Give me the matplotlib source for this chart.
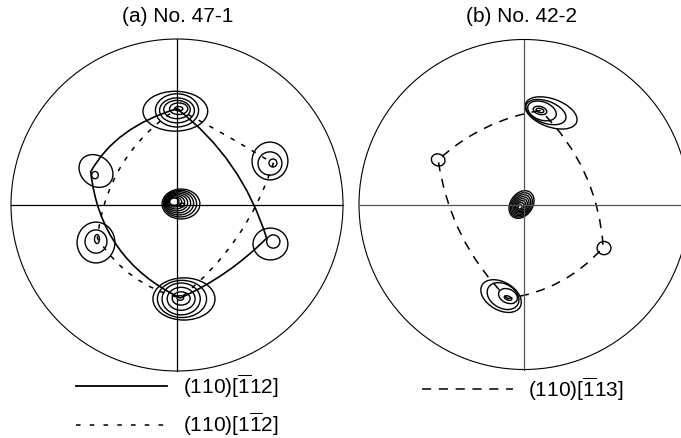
"""
Pole figures (a) No. 47-1 and (b) No. 42-2 with texture skeleton lines.
Saves out.png (681x438).
"""
import matplotlib
matplotlib.use("Agg")  # headless
import matplotlib.pyplot as plt
from matplotlib.patches import Circle, Ellipse, PathPatch
from matplotlib.path import Path

plt.rcParams["font.family"] = ["Liberation Sans", "DejaVu Sans"]
plt.rcParams["mathtext.fontset"] = "custom"
plt.rcParams["mathtext.rm"] = "Liberation Sans"

TITLES = ["(a) No. 47-1", "(b) No. 42-2"]

# contour rings, in units of the pole-figure radius: (x, y, half-width, half-height, angle)
RINGS_47_1 = [
    # top peak
    (0.01, 0.58, 0.025, 0.013, 0), (0.01, 0.58, 0.055, 0.035, 0),
    (0.00, 0.575, 0.08, 0.055, 0), (0.00, 0.57, 0.105, 0.075, 0),
    (0.00, 0.57, 0.13, 0.10, 0), (-0.01, 0.565, 0.195, 0.12, 0),
    # bottom peak
    (0.02, -0.56, 0.02, 0.014, 0), (0.025, -0.563, 0.054, 0.04, 0),
    (0.025, -0.565, 0.084, 0.069, 0), (0.025, -0.566, 0.115, 0.096, 0),
    (0.03, -0.566, 0.148, 0.112, 0), (0.042, -0.566, 0.187, 0.127, 0),
    # centre peak
    (0.024, 0.006, 0.114, 0.09, 0), (0.018, 0.008, 0.10, 0.08, 0),
    (0.012, 0.01, 0.088, 0.07, 0), (0.006, 0.012, 0.076, 0.06, 0),
    (0.0, 0.014, 0.064, 0.05, 0), (-0.006, 0.016, 0.052, 0.04, 0),
    (-0.012, 0.018, 0.04, 0.03, 0), (-0.016, 0.02, 0.028, 0.022, 0),
    (0.03, 0.0, 0.016, 0.012, 0),
    # upper left
    (-0.494, 0.18, 0.02, 0.022, 0), (-0.488, 0.205, 0.11, 0.09, -40),
    # upper right
    (0.578, 0.253, 0.024, 0.024, 0), (0.56, 0.25, 0.072, 0.07, 0),
    (0.56, 0.265, 0.108, 0.114, 0),
    # lower left
    (-0.482, -0.205, 0.015, 0.027, 0), (-0.488, -0.22, 0.066, 0.07, 0),
    (-0.488, -0.226, 0.114, 0.123, 0),
    # lower right
    (0.58, -0.22, 0.04, 0.04, 0), (0.563, -0.235, 0.105, 0.096, 0),
]

RINGS_42_2 = [
    # top peak
    (0.097, 0.57, 0.024, 0.012, -15), (0.097, 0.57, 0.042, 0.024, -15),
    (0.109, 0.567, 0.09, 0.055, -20), (0.133, 0.56, 0.127, 0.067, -20),
    (0.164, 0.555, 0.165, 0.085, -20),
    # bottom peak
    (-0.097, -0.567, 0.024, 0.012, -20), (-0.097, -0.555, 0.06, 0.042, -25),
    (-0.127, -0.555, 0.103, 0.073, -30), (-0.139, -0.555, 0.133, 0.085, -30),
    # centre peak
    (-0.015, 0.0, 0.091, 0.067, 55), (-0.016, -0.002, 0.08, 0.059, 55),
    (-0.017, -0.004, 0.069, 0.051, 55), (-0.018, -0.006, 0.058, 0.043, 55),
    (-0.019, -0.008, 0.047, 0.035, 55), (-0.02, -0.01, 0.036, 0.027, 55),
    (-0.022, -0.012, 0.025, 0.019, 55), (-0.024, -0.015, 0.014, 0.01, 55),
    # small side peaks
    (-0.52, 0.27, 0.042, 0.036, -20), (0.485, -0.264, 0.042, 0.04, 0),
]

# skeleton lines: corner points and quadratic-curve control points between them
SOLID_47_1_PTS = [(0.0, 0.58), (-0.52, 0.20), (0.02, -0.56), (0.54, -0.20)]
SOLID_47_1_CTRL = [(-0.37, 0.47), (-0.46, -0.33), (0.31, -0.43), (0.39, 0.28)]
DASH_47_1_PTS = [(0.0, 0.58), (0.58, 0.25), (0.02, -0.56), (-0.48, -0.20)]
DASH_47_1_CTRL = [(0.29, 0.43), (0.42, -0.24), (-0.30, -0.48), (-0.42, 0.30)]
DASH_42_2_PTS = [(0.10, 0.57), (-0.52, 0.27), (-0.10, -0.57), (0.48, -0.26)]
DASH_42_2_CTRL = [(-0.26, 0.51), (-0.45, -0.22), (0.25, -0.52), (0.45, 0.22)]

LEGEND_A = [r"(110)[$\overline{\mathrm{1}}$12]", r"(110)[1$\overline{\mathrm{1}}$2]"]
LEGEND_B = r"(110)[$\overline{\mathrm{1}}$13]"

W, H = 681, 438


def skeleton_path(pts, ctrl):
    verts = [pts[0]]
    codes = [Path.MOVETO]
    for i in range(len(pts)):
        verts += [ctrl[i], pts[(i + 1) % len(pts)]]
        codes += [Path.CURVE3, Path.CURVE3]
    return Path(verts, codes)


def pole_axes(fig, cx, cy, r, cross_color):
    ax = fig.add_axes([(cx - r) / W, (H - cy - r) / H, 2 * r / W, 2 * r / H])
    ax.set_xlim(-1, 1)
    ax.set_ylim(-1, 1)
    ax.axis("off")
    ax.add_patch(Circle((0, 0), 1, fill=False, lw=0.8, color="black", clip_on=False))
    ax.plot([-1, 1], [0, 0], color=cross_color, lw=0.9, clip_on=False)
    ax.plot([0, 0], [-1, 1], color=cross_color, lw=0.9, clip_on=False)
    return ax


def draw_rings(ax, rings):
    for x, y, a, b, ang in rings:
        ax.add_patch(Ellipse((x, y), 2 * a, 2 * b, angle=ang, fill=False,
                             lw=1.0, color="black", clip_on=False))


fig = plt.figure(figsize=(W / 100, H / 100), dpi=100)

# (a)
ax = pole_axes(fig, 177, 205, 166, "black")
draw_rings(ax, RINGS_47_1)
ax.add_patch(PathPatch(skeleton_path(SOLID_47_1_PTS, SOLID_47_1_CTRL),
                       fill=False, lw=1.2, color="black"))
ax.add_patch(PathPatch(skeleton_path(DASH_47_1_PTS, DASH_47_1_CTRL),
                       fill=False, lw=1.1, color="black", linestyle=(0, (3, 5))))

# (b)
ax = pole_axes(fig, 524, 204.5, 165, "#555555")
draw_rings(ax, RINGS_42_2)
ax.add_patch(PathPatch(skeleton_path(DASH_42_2_PTS, DASH_42_2_CTRL),
                       fill=False, lw=1.1, color="black", linestyle=(0, (6, 5))))

# titles
fig.text(178 / W, 1 - 17 / H, TITLES[0], ha="center", va="center", fontsize=15)
fig.text(522 / W, 1 - 17 / H, TITLES[1], ha="center", va="center", fontsize=15)

# legends
fig.add_artist(plt.Line2D([76 / W, 167 / W], [1 - 386 / H] * 2, color="black", lw=1.3))
fig.add_artist(plt.Line2D([76 / W, 167 / W], [1 - 425 / H] * 2, color="black", lw=1.1,
                          linestyle=(0, (3, 6))))
fig.add_artist(plt.Line2D([422 / W, 513 / W], [1 - 389 / H] * 2, color="black", lw=1.1,
                          linestyle=(0, (6, 5))))
fig.text(183 / W, 1 - 386 / H, LEGEND_A[0], va="center", fontsize=15)
fig.text(183 / W, 1 - 424 / H, LEGEND_A[1], va="center", fontsize=15)
fig.text(528 / W, 1 - 389 / H, LEGEND_B, va="center", fontsize=15)

fig.savefig("out.png", dpi=100)
